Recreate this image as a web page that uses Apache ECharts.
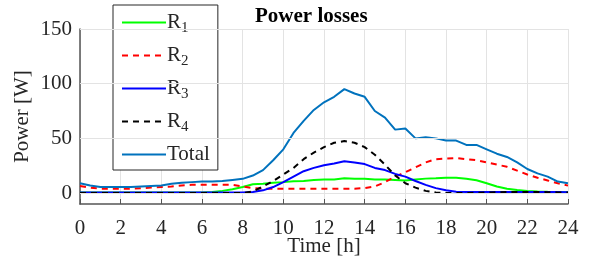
<!DOCTYPE html>
<html>
<head>
<meta charset="utf-8">
<script src="https://cdn.jsdelivr.net/npm/echarts@6/dist/echarts.min.js"></script>
<style>
  html, body { margin: 0; padding: 0; background: #fff; }
  #chart { width: 593px; height: 262px; }
</style>
</head>
<body>
<div id="chart"></div>
<script>
// half-hour steps, 0 .. 24 h
var hours = [0,0.5,1,1.5,2,2.5,3,3.5,4,4.5,5,5.5,6,6.5,7,7.5,8,8.5,9,9.5,10,10.5,11,11.5,12,
             12.5,13,13.5,14,14.5,15,15.5,16,16.5,17,17.5,18,18.5,19,19.5,20,20.5,21,21.5,22,22.5,23,23.5,24];

var r1 = [0.5,0.5,0.5,0.5,0.5,0.5,0.5,0.5,0.5,0.5,0.5,0.5,0.6,1,2,3.5,5.5,8,8.5,9.5,10,10.7,11,12,12.3,
          12.5,13.5,13,13,12.5,12.3,12,11.5,12.5,13.2,13.5,13.9,14,13,11.7,9,6,4,2.8,2,1.5,1.2,1,0.8];
var r2 = [6.5,5,4,4,4,4,4.5,5,5.5,6,7,7.5,7.5,7.5,7.5,7.5,6,4.5,4,4,4,4,4,4,4,
          4,4,4,4.5,6,10,15,19,23.5,28,31,31.5,32,31,30,28,26,24,20.5,17,14,11.5,9,6.8];
var r3 = [0.5,0.5,0.5,0.5,0.5,0.5,0.5,0.5,0.5,0.5,0.5,0.5,0.5,0.5,0.5,0.5,0.5,1,2.5,5.5,10,15,20,23,25.5,
          27,29,28,26.5,23,21,17.5,15,11,7.5,4.5,2.5,1.3,1,1,1,1,1,1,1,1,1,0.9,0.8];
var r4 = [0,0,0,0,0,0,0,0,0,0,0,0,0,0,0,0,0,1.5,6,11,17,23,31,37,42,
          46,47.5,46,42,35,26,16,9,5,2,0.5,0,0,0,0.3,0.5,0.7,1,1,1,1,0.8,0.6,0.5];
var total = [9,7,5.5,5.5,5.5,5.5,6,6.5,7,8.5,9.5,10,10.5,10.5,11,12,13,16,21,30,40,55,66,76,83,
             88,95,91,88,75,69,58,59,50,51,50,48,48,44,44,40,36,33,28,22,18,15,10.5,9];

var yTicks = [0,50,100,150];

function pairs(vals) {
    return hours.map(function (h, i) { return [h, vals[i]]; });
}

var txt = '#262626';
var font = '"Liberation Serif", "Times New Roman", serif';

var chart = echarts.init(document.getElementById('chart'), null, {renderer: 'canvas'});
chart.setOption({
    animation: false,
    title: {
        text: 'Power losses',
        left: 250, top: 1,
        textStyle: {fontFamily: font, fontWeight: 'bold', fontSize: 21, color: '#000'}
    },
    grid: {left: 80, right: 25, top: 29, bottom: 58, outerBoundsMode: 'none'},
    legend: {
        orient: 'vertical',
        left: 113, top: 5,
        padding: [7, 8, 5, 8],
        itemWidth: 44, itemHeight: 14, itemGap: 9,
        backgroundColor: '#fff',
        borderColor: '#262626', borderWidth: 1,
        itemStyle: {opacity: 0},
        textStyle: {
            fontFamily: font, fontSize: 21, color: txt, padding: [0, 0, 0, -4],
            rich: {
                sub: {fontFamily: font, fontSize: 15, color: txt, verticalAlign: 'bottom', padding: [12, 0, 0, 0]}
            }
        },
        formatter: function (name) {
            return name.charAt(0) === 'R' ? 'R{sub|' + name.slice(1) + '}' : name;
        },
        data: ['R1', 'R2', 'R3', 'R4', 'Total']
    },
    xAxis: {
        type: 'value', min: 0, max: 24, interval: 2,
        name: 'Time [h]', nameLocation: 'middle', nameGap: 32, nameMoveOverlap: false,
        nameTextStyle: {fontFamily: font, fontSize: 21, color: txt},
        axisLine: {onZero: false, lineStyle: {color: '#555', width: 1.5}},
        axisTick: {inside: true, length: 5, lineStyle: {color: '#555'}},
        axisLabel: {fontFamily: font, fontSize: 21, color: txt, margin: 14},
        splitLine: {show: true, lineStyle: {color: '#e3e3e3', width: 1}}
    },
    yAxis: {
        type: 'value', min: -10, max: 150,
        name: 'Power [W]', nameLocation: 'middle', nameGap: 47, nameMoveOverlap: false,
        nameTextStyle: {fontFamily: font, fontSize: 21, color: txt},
        axisLine: {show: true, lineStyle: {color: '#555', width: 1.5}},
        axisTick: {show: true, inside: true, length: 5, customValues: yTicks, lineStyle: {color: '#555'}},
        axisLabel: {fontFamily: font, fontSize: 21, color: txt, margin: 8, customValues: yTicks},
        splitLine: {show: false}
    },
    series: [
        {
            name: 'grid', type: 'line', data: [], silent: true,
            markLine: {
                silent: true, symbol: 'none', label: {show: false},
                lineStyle: {color: '#e3e3e3', width: 1, type: 'solid'},
                data: yTicks.map(function (v) { return {yAxis: v}; })
            }
        },
        {name: 'R1', type: 'line', symbol: 'none', data: pairs(r1),
         lineStyle: {color: '#00ff00', width: 2}, itemStyle: {color: '#00ff00'}},
        {name: 'R2', type: 'line', symbol: 'none', data: pairs(r2),
         lineStyle: {color: '#ff0000', width: 2, type: [6, 5]}, itemStyle: {color: '#ff0000'}},
        {name: 'R3', type: 'line', symbol: 'none', data: pairs(r3),
         lineStyle: {color: '#0000ff', width: 2}, itemStyle: {color: '#0000ff'}},
        {name: 'R4', type: 'line', symbol: 'none', data: pairs(r4),
         lineStyle: {color: '#000000', width: 2, type: [6, 5]}, itemStyle: {color: '#000000'}},
        {name: 'Total', type: 'line', symbol: 'none', data: pairs(total),
         lineStyle: {color: '#0072bd', width: 2}, itemStyle: {color: '#0072bd'}}
    ]
});
</script>
</body>
</html>
